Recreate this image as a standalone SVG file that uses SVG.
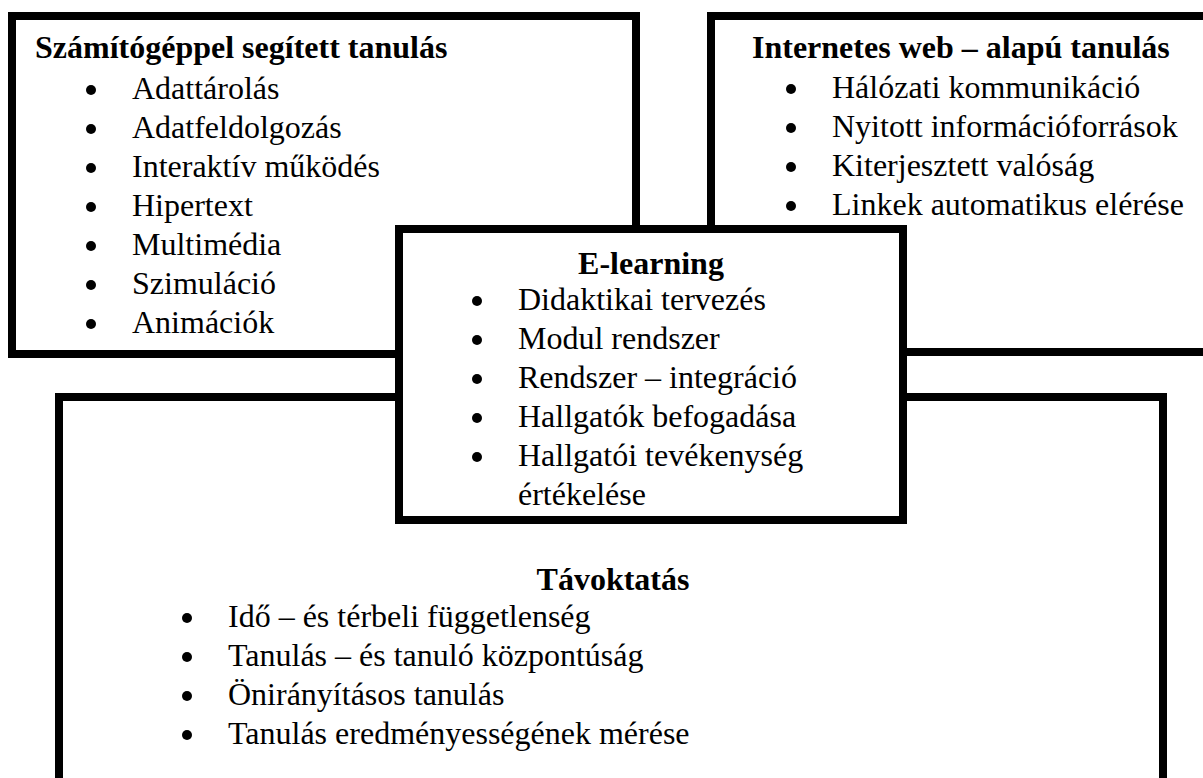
<svg xmlns="http://www.w3.org/2000/svg" width="1203" height="778" viewBox="0 0 1203 778">
<style>
.box{fill:#fff;stroke:#000;stroke-width:8}
.t{font-family:"Liberation Serif","Times New Roman",serif;font-size:32px;fill:#000}
.h{font-weight:bold}
.b{fill:#000}
</style>
<rect width="1203" height="778" fill="#fff"/>
<g id="node-szamitogep">
<rect class="box" x="12" y="16" width="624" height="338"/>
<text class="t h" x="35" y="58">Számítógéppel segített tanulás</text>
<circle class="b" cx="91" cy="90" r="5"/><text class="t" x="132" y="99">Adattárolás</text>
<circle class="b" cx="91" cy="129" r="5"/><text class="t" x="132" y="138">Adatfeldolgozás</text>
<circle class="b" cx="91" cy="168" r="5"/><text class="t" x="132" y="177">Interaktív működés</text>
<circle class="b" cx="91" cy="207" r="5"/><text class="t" x="132" y="216">Hipertext</text>
<circle class="b" cx="91" cy="246" r="5"/><text class="t" x="132" y="255">Multimédia</text>
<circle class="b" cx="91" cy="285" r="5"/><text class="t" x="132" y="294">Szimuláció</text>
<circle class="b" cx="91" cy="324" r="5"/><text class="t" x="132" y="333">Animációk</text>
</g>
<g id="node-internet">
<rect class="box" x="711" y="16" width="600" height="336"/>
<text class="t h" x="752" y="58">Internetes web – alapú tanulás</text>
<circle class="b" cx="791" cy="89" r="5"/><text class="t" x="832" y="98">Hálózati kommunikáció</text>
<circle class="b" cx="791" cy="128" r="5"/><text class="t" x="832" y="137">Nyitott információforrások</text>
<circle class="b" cx="791" cy="167" r="5"/><text class="t" x="832" y="176">Kiterjesztett valóság</text>
<circle class="b" cx="791" cy="206" r="5"/><text class="t" x="832" y="215">Linkek automatikus elérése</text>
</g>
<g id="node-tavoktatas">
<rect class="box" x="59" y="397" width="1104" height="500"/>
<text class="t h" x="613" y="590" text-anchor="middle">Távoktatás</text>
<circle class="b" cx="187" cy="618" r="5"/><text class="t" x="228" y="627">Idő – és térbeli függetlenség</text>
<circle class="b" cx="187" cy="657" r="5"/><text class="t" x="228" y="666">Tanulás – és tanuló központúság</text>
<circle class="b" cx="187" cy="696" r="5"/><text class="t" x="228" y="705">Önirányításos tanulás</text>
<circle class="b" cx="187" cy="735" r="5"/><text class="t" x="228" y="744">Tanulás eredményességének mérése</text>
</g>
<g id="node-elearning">
<rect class="box" x="399" y="229" width="504" height="291"/>
<text class="t h" x="651" y="274" text-anchor="middle">E-learning</text>
<circle class="b" cx="477" cy="301" r="5"/><text class="t" x="518" y="310">Didaktikai tervezés</text>
<circle class="b" cx="477" cy="340" r="5"/><text class="t" x="518" y="349">Modul rendszer</text>
<circle class="b" cx="477" cy="379" r="5"/><text class="t" x="518" y="388">Rendszer – integráció</text>
<circle class="b" cx="477" cy="418" r="5"/><text class="t" x="518" y="427">Hallgatók befogadása</text>
<circle class="b" cx="477" cy="457" r="5"/><text class="t" x="518" y="466">Hallgatói tevékenység</text>
<text class="t" x="518" y="505">értékelése</text>
</g>
<g id="connectors"/>
</svg>
